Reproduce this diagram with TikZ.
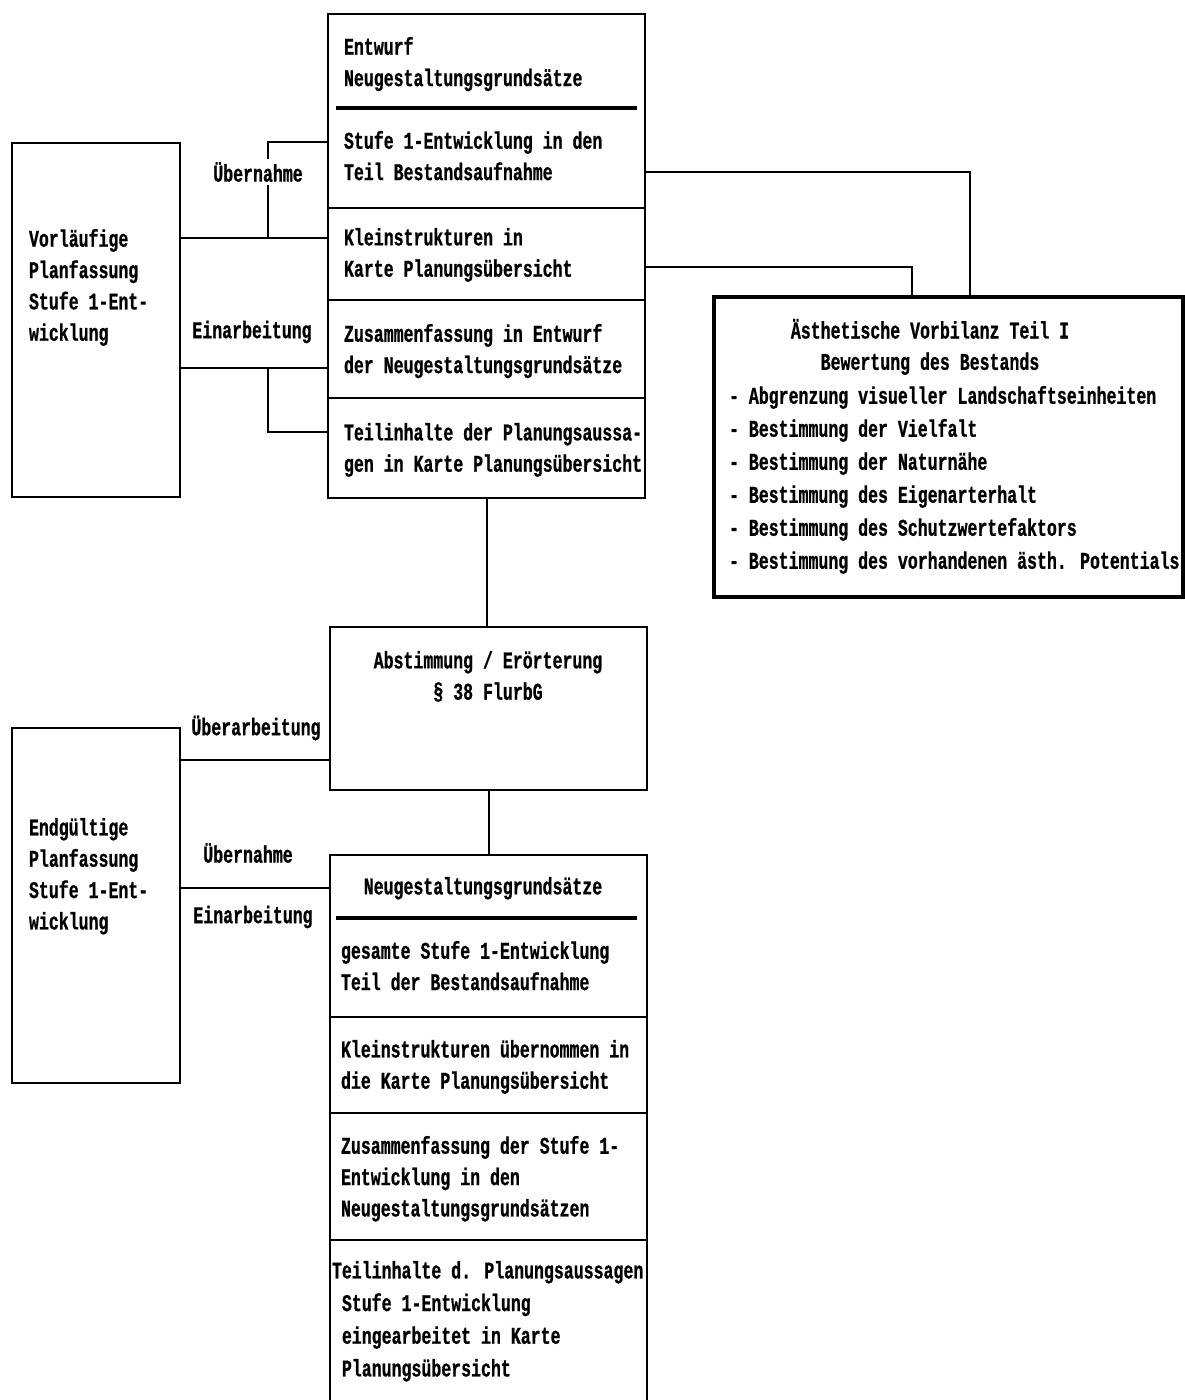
\documentclass[tikz,border=0pt]{standalone}
\usepackage{fontspec}
\usepackage{tikz}
\newfontfamily\typeface[FakeStretch=0.69,FakeBold=0.8]{Liberation Mono Bold}
\tikzset{every picture/.style={line width=1.5pt}}
\tikzset{
  box/.style={draw, rectangle, inner sep=0pt},
  txt/.style={font=\typeface\fontsize{18}{23.5}\selectfont, align=left, inner sep=0pt, anchor=north west},
  ctxt/.style={font=\typeface\fontsize{18}{23.5}\selectfont, align=center, inner sep=0pt, anchor=north},
  lbl/.style={font=\typeface\fontsize{18}{23.5}\selectfont, fill=white, inner sep=2pt},
  bar/.style={line width=3.5pt}
}

\begin{document}
\begin{tikzpicture}[x=0.75pt,y=0.75pt,yscale=-1,xscale=1]
\useasboundingbox (0,0) rectangle (1185,1400);

%Shape: Rectangle
\node[box, minimum width=126pt, minimum height=265.5pt] (vorl) at (96,320) {};
%Shape: Rectangle
\node[box, minimum width=237.75pt, minimum height=145.5pt] (cA) at (486.5,111) {};
\node[box, minimum width=237.75pt, minimum height=69pt] (cB) at (486.5,254) {};
\node[box, minimum width=237.75pt, minimum height=73.5pt] (cC) at (486.5,349) {};
\node[box, minimum width=237.75pt, minimum height=75pt] (cD) at (486.5,448) {};
\draw[bar] (336,108) -- (637,108);
%Shape: Rectangle
\node[box, line width=3pt, minimum width=351.75pt, minimum height=225pt] (aesth) at (948.5,447) {};
%Shape: Rectangle
\node[box, minimum width=237.75pt, minimum height=122.25pt] (abst) at (488.5,708.5) {};
%Shape: Rectangle
\node[box, minimum width=126pt, minimum height=266.25pt] (endg) at (96,905.5) {};
%Shape: Rectangle
\node[box, minimum width=237.75pt, minimum height=121.5pt] (dA) at (488.5,936) {};
\node[box, minimum width=237.75pt, minimum height=72pt] (dB) at (488.5,1065) {};
\node[box, minimum width=237.75pt, minimum height=95.25pt] (dC) at (488.5,1176.5) {};
\node[box, minimum width=237.75pt, minimum height=127.5pt] (dD) at (488.5,1325) {};
\draw[bar] (336,918) -- (637,918);

%Straight Lines
\coordinate (jA) at (268,238);
\coordinate (jB) at (268,142);
\coordinate (jC) at (268,368);
\coordinate (jD) at (268,432);
\draw (vorl.east |- jA) -- (cB.west |- jA);
\draw (jA) -- (jB) -- (cA.west |- jB);
\draw (vorl.east |- jC) -- (cC.west |- jC);
\draw (jC) -- (jD) -- (cD.west |- jD);
%Straight Lines
\coordinate (rA) at (970,172);
\coordinate (rB) at (912,267);
\draw (cA.east |- rA) -| (aesth.north -| rA);
\draw (cB.east |- rB) -| (aesth.north -| rB);
%Straight Lines
\draw (cD.south) -- (cD.south |- abst.north);
\draw (abst.south) -- (abst.south |- dA.north);
%Straight Lines
\coordinate (kA) at (255,760);
\coordinate (kB) at (255,888);
\draw (endg.east |- kA) -- (abst.west |- kA);
\draw (endg.east |- kB) -- (dA.west |- kB);

% Text Node
\node[txt] (tvorl) at (28,228) {Vorläufige\\Planfassung\\Stufe 1-Ent-\\wicklung};
% Text Node
\node[txt] (tentw) at (343,36) {Entwurf\\Neugestaltungsgrundsätze};
% Text Node
\node[txt] (tstufe) at (343,130) {Stufe 1-Entwicklung in den\\Teil Bestandsaufnahme};
% Text Node
\node[txt] (tklein) at (343,227) {Kleinstrukturen in\\Karte Planungsübersicht};
% Text Node
\node[txt] (tzus) at (343,323) {Zusammenfassung in Entwurf\\der Neugestaltungsgrundsätze};
% Text Node
\node[txt] (tteil) at (343,422) {Teilinhalte der Planungsaussa-\\gen in Karte Planungsübersicht};
% Text Node
\node[lbl] (lueb) at (258,172) {Übernahme};
% Text Node
\node[lbl] (lein) at (252,332) {Einarbeitung};
% Text Node
\node[ctxt] (taesth) at (930,318) {Ästhetische Vorbilanz Teil I\\Bewertung des Bestands};
% Text Node
\node[txt, font=\typeface\fontsize{18}{24.75}\selectfont] (tbest) at (728,385) {- Abgrenzung visueller Landschaftseinheiten\\- Bestimmung der Vielfalt\\- Bestimmung der Naturnähe\\- Bestimmung des Eigenarterhalt\\- Bestimmung des Schutzwertefaktors\\- Bestimmung des vorhandenen ästh. Potentials};
% Text Node
\node[ctxt] (tabst) at (488,650) {Abstimmung / Erörterung\\§ 38 FlurbG};
% Text Node
\node[lbl] (luebarb) at (256,728) {Überarbeitung};
% Text Node
\node[lbl] (lueb2) at (248,853) {Übernahme};
% Text Node
\node[lbl] (lein2) at (253,917) {Einarbeitung};
% Text Node
\node[txt] (tendg) at (28,817) {Endgültige\\Planfassung\\Stufe 1-Ent-\\wicklung};
% Text Node
\node[ctxt] (tneug) at (483,876) {Neugestaltungsgrundsätze};
% Text Node
\node[txt] (tges) at (340,940) {gesamte Stufe 1-Entwicklung\\Teil der Bestandsaufnahme};
% Text Node
\node[txt] (tklein2) at (340,1039) {Kleinstrukturen übernommen in\\die Karte Planungsübersicht};
% Text Node
\node[txt] (tzus2) at (340,1135) {Zusammenfassung der Stufe 1-\\Entwicklung in den\\Neugestaltungsgrundsätzen};
% Text Node
\node[txt, font=\typeface\fontsize{18}{24.5}\selectfont] (tteil2) at (331,1260) {Teilinhalte d. Planungsaussagen\\\ Stufe 1-Entwicklung\\\ eingearbeitet in Karte\\\ Planungsübersicht};

\end{tikzpicture}
\end{document}
